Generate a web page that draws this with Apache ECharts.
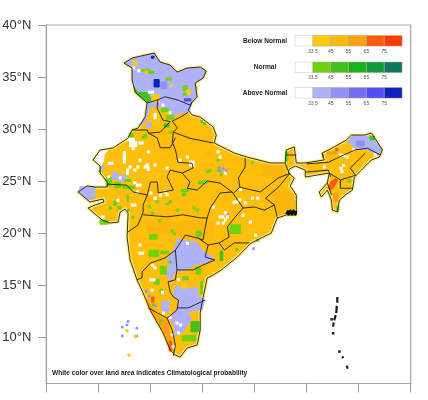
<!DOCTYPE html>
<html><head><meta charset="utf-8">
<style>html,body{margin:0;padding:0;background:#fff}#c{width:428px;height:400px;filter:blur(0.4px)}</style>
<script src="https://cdn.jsdelivr.net/npm/echarts@6/dist/echarts.min.js"></script>
</head><body><div id="c"></div>
<script>
// ---- tick labels / legend values ----
const lonTicks=[65,70,75,80,85,90,95,100];
const latTicks=[10,15,20,25,30,35,40];
const legendTicks=['33.5','45','55','65','75'];
const belowColors=['#ffffff','#fdcb0e','#fdb80e','#fd9f10','#fc5a0c','#fb3a08'];
const normalColors=['#ffffff','#70d20e','#42c01c','#16b418','#0f9a3c','#0d7a5e'];
const aboveColors=['#ffffff','#b0b2f8','#8f90f8','#6f70f2','#4f50f8','#0c22b8'];
const landColor='#fdbf0c';
// ---- India outline (lon,lat) ----
const indiaOutline=[[72.47,36.34],[73.24,36.82],[74.49,37.11],[75.36,37.3],[75.93,36.44],[76.89,36.15],[77.57,35.48],[78.53,35.86],[79.78,35.96],[80.36,35.57],[80.07,34.9],[79.3,34.42],[79.49,33.07],[79.01,32.59],[78.63,31.82],[79.01,31.34],[79.78,31.15],[81.03,30.19],[81.32,29.42],[81.13,28.65],[83.05,27.69],[84.3,27.3],[86.51,26.73],[87.95,26.73],[88.05,27.98],[88.82,28.27],[89.01,26.73],[89.78,26.73],[91.7,27.02],[91.51,27.69],[92.66,28.27],[93.82,28.94],[94.3,29.42],[95.55,29.42],[96.22,29.61],[96.8,28.75],[97.28,27.98],[96.99,27.3],[96.22,27.02],[95.26,26.05],[94.59,25.38],[94.4,24.13],[93.72,23.65],[93.15,23.17],[92.95,22.02],[92.47,22.21],[92.38,23.17],[92,24.13],[91.41,23.46],[91.22,23.94],[91.99,24.8],[92.18,25.77],[89.88,25.38],[89.88,26.05],[88.91,26.44],[88.34,26.15],[88.24,25.77],[88.82,25.28],[88.43,24.52],[89.01,23.65],[89.01,21.73],[88.05,21.73],[87.18,21.44],[86.61,20],[84.68,19.04],[83.34,17.69],[81.8,16.44],[81.03,15.96],[80.45,15.67],[80.07,13.84],[79.97,13.36],[79.78,12.3],[79.78,10.67],[79.49,9.23],[78.53,8.94],[77.86,8.07],[77.38,8.27],[76.9,8.75],[76.22,10.38],[74.97,12.59],[74.3,14.23],[73.72,15.48],[73.05,17.4],[72.76,19.61],[72.86,21.92],[72.57,22.3],[72.09,22.02],[71.9,21.05],[71.13,20.96],[70.36,21.25],[69.01,22.4],[69.68,22.69],[70.55,22.98],[70.45,23.27],[69.2,22.98],[68.05,23.94],[68.92,24.52],[69.68,24.42],[70.84,24.42],[70.93,24.8],[70.17,25.77],[70.17,26.44],[69.49,27.02],[70.17,27.98],[71.42,28.17],[72.86,29.13],[73.24,29.9],[73.82,30.09],[74.49,31.15],[74.68,32.5],[73.53,33.55],[73.24,34.71],[73.24,35.86],[72.47,36.34]];
// ---- state borders (lon,lat) ----
const stateBorders=[
[[74.7,32.5],[75.7,32.8],[76.4,33.1],[77.6,32.8],[78.8,32.3],[79,32.6]],
[[75.7,32.8],[75.65,32],[76.2,30.86],[76.9,30.7]],
[[78.6,31.6],[77.9,31.15],[77.1,30.75]],
[[77.1,30.75],[77.6,30.1],[77.2,29.7],[78.8,29.1],[81.05,28.65]],
[[73.25,29.9],[74.7,29.9],[74.8,29.6],[75.95,29.7],[76.9,30.7]],
[[74.8,29.6],[75.65,29.15],[75.95,28.2],[76.9,28.2],[77.4,29.15]],
[[77.2,29.7],[77.1,28.75],[77.4,28],[77.65,26.8],[79,26.7],[79.1,26.25],[78.05,25.77],[76.9,26.05],[76.6,25.4],[77.2,24.13],[75.75,23.85],[75.65,24.9],[75,24.9],[74.7,23.65],[73.35,23.94],[72.75,24.6],[70.85,24.7]],
[[78.05,25.77],[78.45,25.3],[78.8,24.9],[78.55,24.3],[79.5,24.13],[80.45,25],[81.7,24.8],[82.85,23.94]],
[[74.7,23.65],[74.3,22.7],[74.3,22],[73.8,20.76],[72.85,20.1]],
[[74.3,21.75],[76.6,21.55],[78.15,21.75],[79.8,21.45],[80.45,21.45]],
[[82.85,23.94],[81.7,23.85],[80.75,22.4],[80.45,21.45],[80.25,20.48],[80.05,19.32],[79.6,19.5]],
[[78.35,19.8],[79.6,19.5],[80.55,18.85],[80.25,17.7],[81.2,17.4],[80,16.9],[79.1,16.45],[77.55,16.45],[77.4,18.35],[78.35,19.8]],
[[77.4,18.35],[76.4,17.6],[75,17.1],[74.2,16.25],[74.2,15.7],[73.7,15.5]],
[[77.55,16.45],[77.4,15.5],[76.7,15.3],[76.9,14.3],[77.2,13.85],[77.7,13.55],[77.55,12.6]],
[[77.55,12.8],[78.65,12.8],[80.25,13.55]],
[[74.8,12.8],[76.6,11.8],[77.55,12.6]],
[[76.6,11.8],[77.1,10.65],[77.4,9.2],[77.2,8.2]],
[[80.55,18.85],[81.6,19.05],[82.1,18.35],[83.05,19.05],[84.5,19.05]],
[[83.9,22.4],[83.15,21.55],[82.4,20.6],[82.55,19.6],[81.6,19.05]],
[[82.85,23.94],[83.9,22.4]],
[[83.9,22.4],[85,22.5],[85.95,22.2],[86.9,22.7],[87.2,21.45]],
[[86.9,22.7],[86.05,23.35],[87.3,24.4],[88.4,25.75]],
[[83.6,24.4],[85.55,23.95],[87.3,25.3],[88.4,25.75]],
[[84.1,27.2],[84.1,26.35],[83.45,25.3],[83.6,24.4],[83,23.85]],
[[87.95,26.7],[88.3,25.8]],
[[88.05,27.5],[89,27.5]],
[[90,26.65],[92.1,26.8],[93.55,27.5],[94.7,28],[95.85,28.15],[97.1,27.5]],
[[91.5,27.7],[91.6,27.2]],
[[89.9,25.85],[92.1,26.05],[92.3,25.4]],
[[94.2,26.25],[95.65,27.7]],
[[93.25,25.1],[94.7,25.55],[94.2,26.25]],
[[92.2,25.75],[93.25,25.1],[93.25,24.3],[94.4,24.3]],
[[92,24.8],[92.4,23.65]]
];
const islandLines=[[[92.95,13.85],[92.95,13.3]],[[92.9,13],[92.85,12.3]],[[92.8,12.1],[92.65,11.6]],[[92.6,11.4],[92.55,11.0]],[[93.45,8.15],[93.5,7.95]],[[93.85,7.25],[93.95,6.95]]];
const sundarbansLine=[[88.05,21.8],[88.2,22.1],[88.3,21.8],[88.45,22.15],[88.6,21.8],[88.75,22.15],[88.9,21.8],[89.0,22.1]];
// ---- broad probability regions: [category, polygon] ----
const regionKashmir=[[72.47,36.34],[73.24,36.82],[74.49,37.11],[75.36,37.3],[75.93,36.44],[76.89,36.15],[77.57,35.48],[78.53,35.86],[79.78,35.96],[80.36,35.57],[80.07,34.9],[79.3,34.42],[79.49,33.07],[79.01,32.59],[78.8,31.6],[77.65,31.45],[77.1,31.05],[76.7,32],[75,32.1],[74.6,30.85],[74.2,30.4],[73.8,30.2],[74.49,31.15],[74.68,32.5],[73.53,33.55],[73.24,34.71],[73.24,35.86]];
const regionTelangana=[[77.6,19.5],[79.6,19.1],[80,18.35],[81.1,17.6],[80.74,17.2],[79.3,16.9],[78.55,16.44],[77.55,16.25],[76.9,15.67],[76.35,15.95],[76.8,16.92],[76.45,17.4],[77.1,18.17]];
const regionRayalaseema=[[77.4,15.0],[78.35,14.7],[79.5,14.8],[79.6,14.03],[80.26,13.55],[80.0,12.59],[78.65,12.4],[79,11.8],[78.34,10.67],[77.38,10],[77.2,11.35],[76.7,11.63],[77.55,12.8],[77.7,13.55],[77.15,14.03]];
const regionMaharashtraOrange=[[74.3,21.2],[77,21.0],[79.5,21.2],[81.2,21],[81,19.4],[78,19.5],[76.5,20],[74.8,19.8]];
const regionBengalOrange=[[86.6,24.2],[88.3,24.2],[88.9,23],[88.9,22],[87.4,21.7],[86.9,22.7]];
const regionBiharOrange=[[85.5,26.5],[87.8,26.5],[87.9,25.6],[87,25.2],[85.8,25.6]];
const regionKeralaOrange=[[74.8,13.55],[75.65,12.1],[76.7,11.45],[77.1,9.2],[77.4,8.45],[76.9,8.75],[76.25,10.4],[75,12.6],[74.5,13.85]];
const regionArunachal=[[93.9,28.85],[94.4,29.4],[95.55,29.4],[96.25,29.3],[96.8,28.65],[97.3,27.98],[96.8,27.4],[95.85,27.98],[94.8,27.98]];
const regionNeRed=[[92,24.3],[92.3,24.9],[92.75,25.3],[93.05,25.1],[92.6,24.3],[92.3,24.1]];
const regionKashmirGreen=[[73.45,34.15],[73.8,33.55],[74.8,33.55],[75.15,32.8],[74.7,32.5],[73.55,33.45]];
const regionKutch=[[68.05,23.95],[68.25,24.5],[69.7,24.5],[69.7,23.35],[69,23.15]];
const regionTharWhite=[[69.55,27.02],[70.2,27.9],[71,28.05],[70.6,27.5],[70.55,26.9],[70.3,26.5]];
const regionList=[['B2',regionMaharashtraOrange],['B2',regionBengalOrange],['B2',regionBiharOrange],['B3',regionKeralaOrange],['A1',regionKashmir],['A1',regionTelangana],['A1',regionRayalaseema],['A1',regionArunachal],['N2',regionKashmirGreen],['A1',regionKutch],['B4',regionNeRed],['B0',regionTharWhite]];
// ---- rectangular patches: [lonMin,latMin,lonMax,latMax,category] ----
const patchBlocks=[
[74,35.5,75,35.8,'N1'],[74.8,35.3,75.4,35.6,'N1'],[76.4,34.65,77.1,34.95,'N1'],[78.1,33.6,78.6,34.2,'N1'],[78.4,33.3,78.9,33.8,'B1'],[78.1,33.2,78.5,33.5,'N1'],[73.3,36.05,73.75,36.6,'B1'],[75.95,33.85,76.6,34.6,'A2'],[75.3,34,75.9,34.8,'A5'],[75.05,36.75,75.4,37.05,'A5'],[78.2,32.65,78.95,32.95,'A4'],[75.1,32.55,75.9,33.35,'B1'],
[76,31.6,76.8,32.05,'N1'],[76.5,30.9,77.3,31.4,'N1'],[75.3,30.3,75.9,31.5,'B1'],[76.4,31.4,76.8,31.6,'B1'],[74.55,30.15,75.15,30.65,'A1'],[76.25,30.15,76.85,30.55,'N2'],[72.9,29.2,73.45,29.65,'N1'],
[70.1,26.1,70.6,26.5,'A1'],[70,25.85,70.3,26.1,'N1'],[70.7,24.5,71.35,25.4,'N1'],[71.5,24.3,72.2,24.9,'N1'],[72.3,24.2,73.4,24.6,'N1'],[71.3,25.1,71.9,25.9,'A1'],[71.9,24.9,72.7,25.6,'A1'],[72.5,24.9,73.2,25.2,'N1'],
[71.4,22.6,71.8,23.1,'N1'],[71.8,22.25,72.25,22.6,'N1'],[70.1,20.8,71,21.3,'N1'],[72.7,23,72.95,23.7,'N1'],
[77.9,23.9,78.7,24.25,'N1'],[78,23.5,78.45,23.9,'N1'],[79.55,24.7,80.5,25.05,'N1'],[82.6,19.9,83.7,20.85,'N1'],[79.35,19.65,79.95,20.25,'N1'],[81.65,17.3,82,18.3,'N2'],[87.95,26.85,88.25,27.85,'N1'],
[74.85,19.35,75.7,19.9,'N1'],[74.8,17.7,75.85,18.4,'N1'],[75.95,17.95,76.8,18.3,'N1'],[75.9,16,76.6,16.85,'N1'],[75.3,15,75.9,15.6,'N1'],[76.75,15.4,77.15,16.9,'A1'],[75.85,14.15,76.25,14.65,'N1'],
[79.3,16,79.9,16.7,'N1'],[79.75,14.1,80.05,15.4,'N1'],[78.05,15.45,78.7,15.85,'N1'],[77.95,14.65,78.45,15.05,'B1'],[78.85,10.45,79.7,11.55,'N2'],[78,9.6,79.4,10.2,'N1'],[76.05,12.4,76.85,13.5,'A1'],
[92.75,27.85,93.05,28.2,'B4'],[91.95,27.55,92.95,27.85,'B3'],[94.75,28.3,95.6,28.9,'A2'],[96.05,28.9,96.55,29.35,'N2'],[92.55,23,93.05,23.9,'B3'],[92.85,22.05,93.15,22.65,'N1'],
[80.35,27.45,80.85,27.85,'B2'],[75.05,13.3,75.4,13.9,'B4'],[76.75,8.6,77.1,9.65,'B4']
];
// ---- speckle cells: [lon,lat] by category ----
const whiteCells=[[72.85,29],[73.1,29],[73.35,29],[73.1,28.7],[73.35,28.7],[73.6,28.7],[73.1,28.4],[73.35,28.4],[73.6,28.4],[73.35,28.1],[74.2,28.65],[74,28.65],[72.5,27.75],[72.5,27.45],[72.5,27.15],[72.5,26.85],[71.05,26.7],[71.3,26.7],[74,27],[74.5,26.35],[74.75,26.35],[74.8,26.1],[73.05,26.35],[73.5,26.05],[72.8,26.05],[72.8,25.75],[75.45,26.55],[74.8,27.8],[76.6,26.25],[77.85,27],[73.75,23.95],[75.05,23.85],[76.4,23.95],[76.6,23.7],[75.95,23.65],[73.25,22.7],[73.5,22.7],[71.9,23.15],[75.45,23.35],[70.45,21.55],[73.5,24.85],[73.75,24.6],[74,24.6],[72.1,25.3],[71,25.4],[73.8,26.35],[74.7,26.55],[79.1,26.8],[79.1,26.5],[78.85,26.8],[78.55,27.3],[78.85,26.55],[75.45,31.4],[75.45,31.1],[76.2,32.3],[76.9,31.55],[74.9,33.55],[75.2,33.55],[73.9,35.6],[73.4,35.85],[81.7,27.3],[81.5,27.8],[82.2,25.75],[83.65,24.2],[83.35,23],[83.6,23.2],[83.05,22.95],[84.1,22.9],[84.8,23.35],[85.3,23.35],[81.05,22.5],[81.7,21.55],[82.2,21.95],[82.4,21.55],[81.5,20.95],[82,20.95],[82.2,21.25],[81.95,21.55],[84.6,21.05],[83.9,21.7],[85.1,19.8],[74,18.85],[74,18.05],[74.25,18.05],[75.45,16.65],[75.2,16.9],[75.05,15.5],[75.35,15.5],[75.15,14.5],[76.15,14.3],[76.25,12.3],[76.9,11.9],[77.55,11.35],[77.9,11.15],[77.7,10.4],[77.1,10.2],[77.2,9.05],[77.7,15.5],[78.55,19],[93.25,27.5],[93.55,27.45],[93.9,27.3],[93.3,26.2],[93.4,25.9],[93.55,26.5],[91.7,26.35],[90.7,25.4],[91.1,25.4],[94.5,28],[96.6,27.5]];
const greenCells=[[74.3,29.2],[74.55,29.25],[74.5,29.4],[76.9,29.7],[75.65,23],[76.9,23],[77.6,22.2],[71.15,22.4],[73.4,24.4],[72.9,22.2],[80.75,26],[80.5,25.9],[81.55,26],[81.8,25.6],[84.8,26.75],[79.9,30.7],[80.2,30.5],[81.5,27],[76.6,22.8],[74.9,22.5],[75.2,21.9],[73.3,21.5],[77.1,20.2],[77.3,19.9],[75.9,21.2],[79.2,22.4],[79.5,22.2],[83.3,18.4],[85.3,19.3],[94.1,25],[76.9,17.2],[75.3,13.1],[76,11.6]];
const lavenderCells=[[81.6,26.3],[82,26.2],[81.8,26],[82.3,26],[82.4,21.8],[84.9,18.5],[72.75,11.15],[72.85,11.5],[72.3,10.95],[73.7,10.85],[73.7,10.1],[72.3,10.1],[74.6,14.4],[74.9,13.9],[75.5,13.0]];
const yellowCells=[[72.95,8.25],[72.75,10.6],[73.55,10.05],[79.4,34],[74.6,35.5],[77,34.2]];
const darkCells=[[92.55,10.35],[93.15,8.6],[92.4,11.7]];
// ---- build ----
const colorOf=k=>({B:belowColors,N:normalColors,A:aboveColors})[k[0]][+k[1]];
const blockRender=(p,api)=>{const b=patchBlocks[p.dataIndex],a=api.coord([b[0],b[3]]),c=api.coord([b[2],b[1]]);
 return{type:'rect',shape:{x:a[0],y:a[1],width:c[0]-a[0],height:c[1]-a[1],r:1.2},style:{fill:colorOf(b[4])}}};
const polySeries=(list,style)=>({type:'custom',coordinateSystem:'cartesian2d',silent:true,clip:false,z:style.z,data:list.map((_,i)=>[i]),
 renderItem:(p,api)=>{const it=list[p.dataIndex];return{type:'polygon',shape:{points:it.pts.map(c=>api.coord(c))},style:{fill:it.fill,stroke:it.stroke||null,lineWidth:it.lw||0}}}});
const lineSeries=(lines,color,lw,z)=>({type:'custom',coordinateSystem:'cartesian2d',silent:true,clip:false,z,data:lines.map((_,i)=>[i]),
 renderItem:(p,api)=>({type:'polyline',shape:{points:lines[p.dataIndex].map(c=>api.coord(c))},style:{fill:null,stroke:color,lineWidth:lw,lineJoin:'round'}})});
const cellSeries=(cells,color,size,z)=>({type:'custom',coordinateSystem:'cartesian2d',silent:true,clip:false,z,data:cells,
 renderItem:(p,api)=>{const c=api.coord([api.value(0),api.value(1)]),s=api.size([size,size]);
  return{type:'rect',shape:{x:c[0]-s[0]/2,y:c[1]-s[1]/2,width:s[0],height:s[1]},style:{fill:color}}}});
const series=[
 polySeries([{pts:indiaOutline,fill:landColor,stroke:'#fdeb86',lw:3.2}],{z:2}),
 polySeries(regionList.map(r=>({pts:r[1],fill:colorOf(r[0])})),{z:3}),
 {type:'custom',coordinateSystem:'cartesian2d',silent:true,clip:false,z:4,data:patchBlocks.map((_,i)=>[i]),renderItem:blockRender},
 cellSeries(greenCells,normalColors[1],0.3,5),
 cellSeries(lavenderCells,aboveColors[2],0.25,5),
 cellSeries(yellowCells,belowColors[1],0.3,5),
 cellSeries(whiteCells,'#ffffff',0.3,6),
 cellSeries(darkCells,'#26264a',0.25,6),
 lineSeries(stateBorders,'#1c1c14',0.9,7),
 lineSeries([indiaOutline],'#1c1c14',0.9,8),
 lineSeries(islandLines,'#1a1a22',2.2,8),
 lineSeries([sundarbansLine],'#0c0c08',2.4,9)
];
const X0=295,W=17.85,BH=10.6;
const rows=[['Below Normal',265,35.5,belowColors],['Normal',265,62,normalColors],['Above Normal',265,87.5,aboveColors]];
const graphic=[];
rows.forEach(([name,cx,y,cols])=>{
 graphic.push({type:'text',silent:true,style:{text:name,x:cx,y:y+BH/2,fill:'#1e1e1e',font:'bold 6.6px "Liberation Sans"',textAlign:'center',textVerticalAlign:'middle'}});
 cols.forEach((c,i)=>graphic.push({type:'rect',silent:true,shape:{x:X0+i*W,y,width:W,height:BH},style:{fill:c,stroke:i?'#b8a890':'#c0c0c0',lineWidth:0.5}}));
 legendTicks.forEach((t,i)=>graphic.push({type:'text',silent:true,style:{text:t,x:X0+W*(i+1),y:y+BH+5.5,fill:'#555',font:'5px "Liberation Sans"',textAlign:'center',textVerticalAlign:'middle'}}));
});
graphic.push({type:'text',silent:true,style:{text:'White color over land area indicates Climatological probability',x:52,y:373,fill:'#222',font:'bold 6.6px "Liberation Sans"',textAlign:'left',textVerticalAlign:'middle'}});
const axisCommon={axisLine:{show:true,onZero:false,lineStyle:{color:'#a6a6a6',width:1.2}},splitLine:{show:false}};
const chart=echarts.init(document.getElementById('c'),null,{renderer:'canvas',width:428,height:400});
chart.setOption({
 animation:false,backgroundColor:'#fff',
 grid:{left:46.3,right:17.3,top:25,bottom:16.5,show:true,outerBoundsMode:'none',containLabel:false,borderColor:'#a6a6a6',borderWidth:1.2,backgroundColor:'transparent'},
 xAxis:{type:'value',min:65,max:100,...axisCommon,
  axisTick:{show:true,length:9,customValues:lonTicks,lineStyle:{color:'#9a9a9a',width:1}},
  axisLabel:{show:true,customValues:lonTicks,margin:15,fontSize:13,color:'#444',fontFamily:'Liberation Sans',hideOverlap:false,formatter:v=>v+'°E'}},
 yAxis:{type:'value',min:5.53,max:40,...axisCommon,
  axisTick:{show:true,length:8,customValues:latTicks,lineStyle:{color:'#9a9a9a',width:1}},
  axisLabel:{show:true,customValues:latTicks,margin:15,fontSize:13,color:'#333',fontFamily:'Liberation Sans',formatter:v=>v+'°N'}},
 series,graphic
});
</script></body></html>
